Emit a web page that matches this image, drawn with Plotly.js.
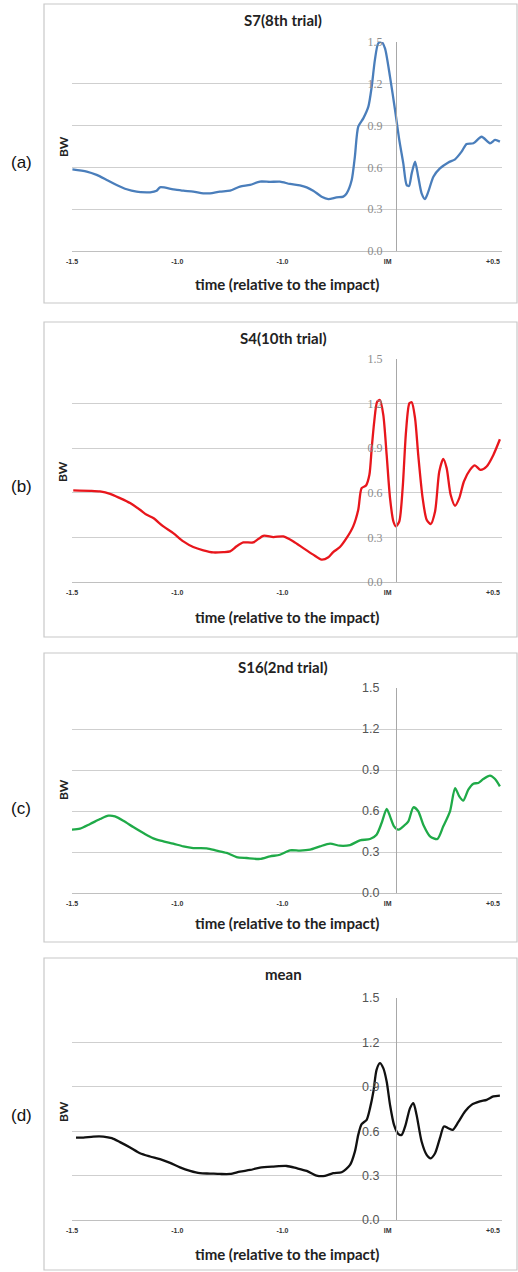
<!DOCTYPE html>
<html><head><meta charset="utf-8">
<script src="https://cdn.plot.ly/plotly-3.0.1.min.js"></script>
<style>html,body{margin:0;padding:0;background:#fff;}#chart{width:518px;height:1272px;}</style>
</head><body><div id="chart"></div>
<script>
// ---- data (time relative to impact, s; BW) ----
const panelTitles = ["S7(8th trial)", "S4(10th trial)", "S16(2nd trial)", "mean"];
const panelLabels = ["(a)", "(b)", "(c)", "(d)"];
const xTickVals = [-1.5, -1.0, -0.5, 0, 0.5];
const xTickText = ["-1.5", "-1.0", "-1.0", "IM", "+0.5"];
const yTickVals = [0, 0.3, 0.6, 0.9, 1.2, 1.5];

const tS7 = [-1.498,-1.430,-1.383,-1.335,-1.288,-1.240,-1.193,-1.145,-1.129,-1.098,-1.082,-1.019,-0.971,-0.924,-0.876,-0.844,-0.797,-0.749,-0.702,-0.654,-0.607,-0.559,-0.512,-0.464,-0.417,-0.385,-0.354,-0.314,-0.282,-0.243,-0.211,-0.195,-0.171,-0.156,-0.140,-0.116,-0.092,-0.076,-0.061,-0.045,-0.029,-0.013,0.011,0.035,0.055,0.074,0.090,0.101,0.114,0.130,0.145,0.161,0.177,0.193,0.217,0.248,0.288,0.320,0.351,0.375,0.407,0.446,0.486,0.510,0.533];
const bwS7 = [0.586,0.57,0.546,0.51,0.474,0.443,0.426,0.421,0.421,0.433,0.457,0.443,0.433,0.426,0.414,0.414,0.426,0.433,0.462,0.474,0.498,0.496,0.498,0.481,0.471,0.457,0.433,0.39,0.373,0.385,0.39,0.414,0.51,0.677,0.892,0.952,1.036,1.18,1.37,1.49,1.50,1.455,1.25,1.01,0.797,0.629,0.474,0.466,0.557,0.641,0.533,0.414,0.373,0.426,0.533,0.593,0.636,0.658,0.713,0.768,0.773,0.82,0.773,0.797,0.785];

const tS4 = [-1.494,-1.414,-1.367,-1.319,-1.272,-1.224,-1.177,-1.145,-1.114,-1.066,-1.019,-0.971,-0.924,-0.876,-0.829,-0.781,-0.749,-0.718,-0.686,-0.639,-0.591,-0.543,-0.496,-0.448,-0.401,-0.354,-0.314,-0.282,-0.259,-0.227,-0.195,-0.164,-0.140,-0.124,-0.103,-0.087,-0.076,-0.064,-0.050,-0.037,-0.021,-0.005,0.011,0.027,0.039,0.055,0.071,0.087,0.103,0.114,0.130,0.145,0.166,0.185,0.204,0.225,0.245,0.264,0.280,0.299,0.320,0.340,0.362,0.391,0.414,0.441,0.470,0.502,0.533];
const bwS4 = [0.616,0.613,0.609,0.593,0.564,0.531,0.486,0.452,0.430,0.374,0.329,0.273,0.235,0.213,0.199,0.201,0.206,0.240,0.266,0.266,0.311,0.302,0.307,0.273,0.228,0.184,0.150,0.166,0.201,0.235,0.296,0.374,0.486,0.631,0.649,0.721,0.900,1.079,1.213,1.224,1.124,0.855,0.564,0.407,0.374,0.407,0.631,1.012,1.202,1.209,1.101,0.855,0.564,0.419,0.390,0.475,0.743,0.828,0.766,0.587,0.513,0.564,0.676,0.754,0.784,0.754,0.777,0.855,0.960];

const tS16 = [-1.502,-1.462,-1.414,-1.367,-1.327,-1.296,-1.256,-1.209,-1.161,-1.114,-1.066,-1.019,-0.971,-0.924,-0.860,-0.813,-0.765,-0.718,-0.670,-0.607,-0.559,-0.512,-0.464,-0.417,-0.369,-0.322,-0.274,-0.227,-0.179,-0.132,-0.084,-0.053,-0.029,-0.005,0.011,0.030,0.050,0.074,0.098,0.122,0.145,0.169,0.201,0.236,0.264,0.296,0.320,0.340,0.359,0.383,0.407,0.430,0.454,0.486,0.510,0.533];
const bwS16 = [0.463,0.471,0.505,0.541,0.566,0.561,0.529,0.483,0.439,0.400,0.378,0.361,0.341,0.329,0.327,0.310,0.293,0.263,0.256,0.249,0.268,0.280,0.312,0.310,0.317,0.341,0.361,0.346,0.351,0.385,0.395,0.427,0.512,0.615,0.561,0.488,0.463,0.488,0.524,0.627,0.598,0.500,0.415,0.395,0.488,0.598,0.768,0.707,0.676,0.756,0.800,0.805,0.834,0.859,0.834,0.780];

const tMean = [-1.481,-1.446,-1.399,-1.351,-1.311,-1.272,-1.224,-1.177,-1.129,-1.082,-1.034,-0.987,-0.939,-0.892,-0.844,-0.797,-0.749,-0.702,-0.654,-0.607,-0.543,-0.480,-0.433,-0.385,-0.338,-0.298,-0.259,-0.219,-0.179,-0.156,-0.140,-0.124,-0.100,-0.084,-0.068,-0.053,-0.037,-0.021,-0.005,0.011,0.030,0.050,0.066,0.085,0.106,0.122,0.137,0.161,0.185,0.204,0.225,0.248,0.267,0.288,0.309,0.335,0.367,0.398,0.438,0.470,0.502,0.533];
const bwMean = [0.557,0.557,0.564,0.564,0.553,0.526,0.490,0.451,0.429,0.411,0.386,0.356,0.332,0.316,0.314,0.311,0.311,0.327,0.338,0.354,0.361,0.365,0.350,0.332,0.300,0.298,0.316,0.323,0.372,0.462,0.575,0.647,0.677,0.756,0.868,1.015,1.060,1.026,0.936,0.778,0.643,0.582,0.575,0.643,0.756,0.790,0.711,0.530,0.440,0.417,0.451,0.553,0.632,0.620,0.609,0.661,0.733,0.778,0.801,0.812,0.835,0.841];

// ---- layout helpers ----
const W = 518, H = 1272;
const px = x => x / W;
const py = y => 1 - y / H;
const series = [[tS7, bwS7], [tS4, bwS4], [tS16, bwS16], [tMean, bwMean]];
const colors = ["#4a7ebb", "#e8161c", "#1faa48", "#111111"];
// pixel geometry per panel
const geo = [
  {top:42,  bot:251,  box:[4,303],    title:20,   xt:284,  bw:147,  lab:162,  ylf:"Liberation Serif", ylc:"#8c8c8c", yls:12, tl:11},
  {top:359, bot:582,  box:[322,637],  title:338,  xt:617,  bw:472,  lab:487,  ylf:"Liberation Serif", ylc:"#8c8c8c", yls:12, tl:11},
  {top:688, bot:893,  box:[653,942],  title:667,  xt:923,  bw:790,  lab:808,  ylf:"Liberation Sans", ylc:"#555555", yls:12.5, tl:14},
  {top:998, bot:1220, box:[958,1270], title:974,  xt:1254, bw:1112, lab:1115, ylf:"Liberation Sans", ylc:"#555555", yls:12.5, tl:14}
];
const xL = 72, xR = 502, yAxisX = 396;

const traces = [];
const layout = {
  width: W, height: H, margin: {l:0, r:0, t:0, b:0},
  paper_bgcolor: "#ffffff", plot_bgcolor: "rgba(0,0,0,0)",
  showlegend: false, shapes: [], annotations: []
};

series.forEach((s, i) => {
  const g = geo[i];
  const n = i === 0 ? "" : String(i + 1);
  traces.push({
    x: s[0], y: s[1], type: "scatter", mode: "lines",
    line: {color: colors[i], width: 2.3, shape: "spline", smoothing: 0.7},
    xaxis: "x" + n, yaxis: "y" + n, hoverinfo: "skip"
  });
  layout["xaxis" + n] = {
    domain: [px(xL), px(xR)], anchor: "y" + n, range: [-1.5, 0.543],
    tickvals: xTickVals, ticktext: xTickText,
    tickfont: {family: "Liberation Sans", size: 7, color: "#333", weight: "bold"},
    ticks: "outside", ticklen: 4, tickcolor: "rgba(0,0,0,0)",
    showgrid: false, zeroline: false, showline: true, linecolor: "#c0c0c0", linewidth: 1,
    fixedrange: true
  };
  layout["yaxis" + n] = {
    domain: [py(g.bot), py(g.top)], anchor: "free",
    position: px(yAxisX), side: "left", range: [0, 1.5],
    tickvals: yTickVals, tickformat: ".1f",
    tickfont: {family: g.ylf, size: g.yls, color: g.ylc},
    ticks: "outside", ticklen: g.tl, tickcolor: "rgba(0,0,0,0)",
    showgrid: true, gridcolor: "#cfcfcf", gridwidth: 1,
    zeroline: false, showline: true, linecolor: "#a8a8a8", linewidth: 1,
    fixedrange: true
  };
  // panel frame
  layout.shapes.push({type: "rect", xref: "paper", yref: "paper",
    x0: px(44), x1: px(517), y0: py(g.box[1]), y1: py(g.box[0]),
    line: {color: "#c8c8c8", width: 1.2}, fillcolor: "rgba(0,0,0,0)", layer: "below"});
  // title
  layout.annotations.push({xref: "paper", yref: "paper", x: px(283), y: py(g.title),
    text: panelTitles[i], showarrow: false, xanchor: "center", yanchor: "middle",
    font: {family: "Lato", size: 15, color: "#222", weight: "bold"}});
  // x axis title
  layout.annotations.push({xref: "paper", yref: "paper", x: px(287), y: py(g.xt),
    text: "time (relative to the impact)", showarrow: false, xanchor: "center", yanchor: "middle",
    font: {family: "Lato", size: 15, color: "#222", weight: "bold"}});
  // y axis title
  layout.annotations.push({xref: "paper", yref: "paper", x: px(63), y: py(g.bw),
    text: "BW", textangle: -90, showarrow: false, xanchor: "center", yanchor: "middle",
    font: {family: "Lato", size: 12, color: "#222", weight: "bold"}});
  // panel label
  layout.annotations.push({xref: "paper", yref: "paper", x: px(21), y: py(g.lab),
    text: panelLabels[i], showarrow: false, xanchor: "center", yanchor: "middle",
    font: {family: "Liberation Sans", size: 17, color: "#111"}});
});

Plotly.newPlot("chart", traces, layout, {staticPlot: true, displayModeBar: false});
</script>
</body></html>
